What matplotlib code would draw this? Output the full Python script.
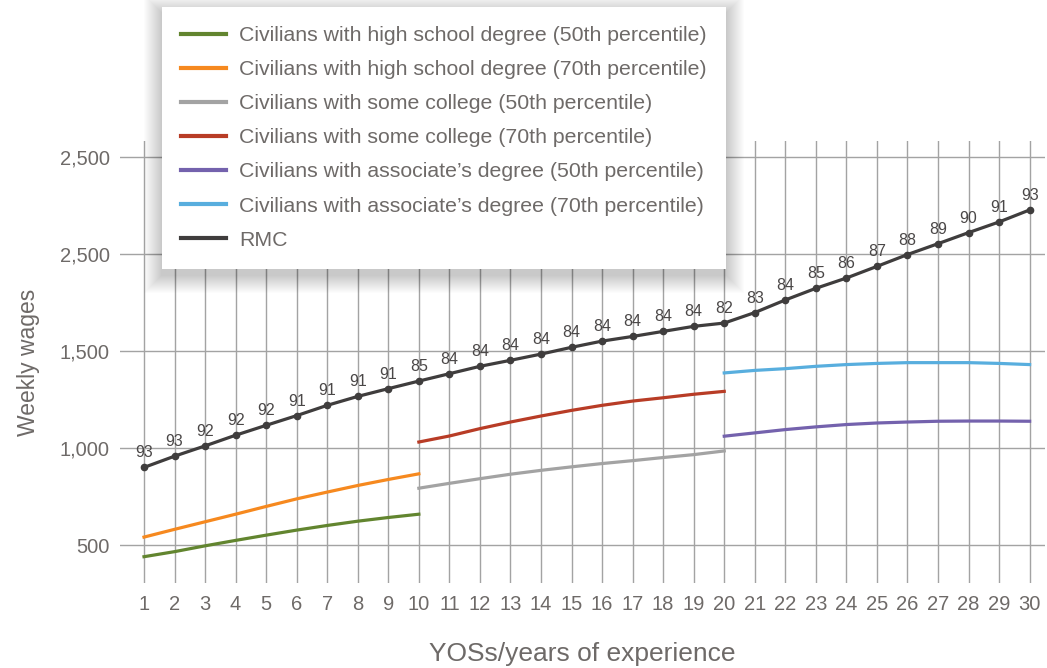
import matplotlib
matplotlib.use("Agg")
import matplotlib.pyplot as plt
from matplotlib.patches import Rectangle

plt.rcParams["font.family"] = ["Liberation Sans", "DejaVu Sans"]

years = list(range(1, 31))

# RMC weekly wages and the percentile label shown above each point
rmc = [900, 958, 1011, 1066, 1117, 1167, 1220, 1266, 1306, 1345,
       1383, 1421, 1452, 1484, 1519, 1551, 1575, 1601, 1627, 1644,
       1698, 1763, 1823, 1876, 1936, 1997, 2053, 2110, 2165, 2227]
rmc_pct = [93, 93, 92, 92, 92, 91, 91, 91, 91, 85,
           84, 84, 84, 84, 84, 84, 84, 84, 84, 82,
           83, 84, 85, 86, 87, 88, 89, 90, 91, 93]

# civilian comparison groups (each covers a span of years)
hs_years = list(range(1, 11))
hs_50 = [440, 466, 496, 524, 551, 577, 601, 623, 642, 659]
hs_70 = [541, 581, 620, 659, 699, 738, 773, 807, 838, 867]

sc_years = list(range(10, 21))
sc_50 = [793, 818, 842, 865, 885, 903, 920, 935, 951, 966, 985]
sc_70 = [1031, 1062, 1100, 1134, 1165, 1194, 1220, 1242, 1259, 1277, 1292]

ad_years = list(range(20, 31))
ad_50 = [1061, 1078, 1095, 1109, 1121, 1129, 1134, 1138, 1139, 1139, 1138]
ad_70 = [1387, 1400, 1409, 1421, 1430, 1436, 1440, 1440, 1440, 1436, 1430]

y_ticks = [500, 1000, 1500, 2000, 2500]
y_tick_labels = ["500", "1,000", "1,500", "2,500", "2,500"]

text_grey = "#6e6a68"
grid_grey = "#a3a3a3"

fig = plt.figure(figsize=(10.47, 6.68), dpi=100)
ax = fig.add_axes([0.1142, 0.1274, 0.8838, 0.6609])

lw = 2.3
ax.plot(hs_years, hs_50, color="#62852f", lw=lw,
        label="Civilians with high school degree (50th percentile)")
ax.plot(hs_years, hs_70, color="#f6891f", lw=lw,
        label="Civilians with high school degree (70th percentile)")
ax.plot(sc_years, sc_50, color="#a3a3a3", lw=lw,
        label="Civilians with some college (50th percentile)")
ax.plot(sc_years, sc_70, color="#b83c26", lw=lw,
        label="Civilians with some college (70th percentile)")
ax.plot(ad_years, ad_50, color="#7462ad", lw=lw,
        label="Civilians with associate\u2019s degree (50th percentile)")
ax.plot(ad_years, ad_70, color="#58aede", lw=lw,
        label="Civilians with associate\u2019s degree (70th percentile)")
ax.plot(years, rmc, color="#3f3d3d", lw=lw, marker="o", markersize=4.5,
        label="RMC")

for x, y, p in zip(years, rmc, rmc_pct):
    ax.annotate(str(p), (x, y), xytext=(0, 5), textcoords="offset points",
                ha="center", va="bottom", fontsize=11.5, color="#4a4747")

ax.set_xlim(0.2, 30.5)
ax.set_ylim(305, 2580)
ax.set_xticks(years)
ax.set_yticks(y_ticks)
ax.set_yticklabels(y_tick_labels)
ax.tick_params(axis="both", length=0, labelsize=14.5, colors=text_grey)
ax.tick_params(axis="x", pad=9)
ax.tick_params(axis="y", pad=7)

for y in y_ticks:
    ax.axhline(y, color=grid_grey, lw=1, zorder=0)
for x in years:
    ax.axvline(x, color=grid_grey, lw=1, zorder=0)
for s in ax.spines.values():
    s.set_visible(False)

ax.set_xlabel("YOSs/years of experience", fontsize=19, color=text_grey,
              labelpad=20)
ax.set_ylabel("Weekly wages", fontsize=16.5, color=text_grey, labelpad=14)

leg = fig.legend(loc="upper left", bbox_to_anchor=(162 / 1047, 1 - 7 / 668),
                 bbox_transform=fig.transFigure, borderaxespad=0,
                 frameon=True, fancybox=False, framealpha=1, fontsize=15.3,
                 labelspacing=0.71, handlelength=2.1, handletextpad=0.62,
                 borderpad=0.9)
leg.get_frame().set_edgecolor("none")
leg.get_frame().set_facecolor("white")
leg.set_zorder(10)
for t in leg.get_texts():
    t.set_color(text_grey)
for h in leg.get_lines():
    h.set_linewidth(3)
    h.set_marker("")

# soft drop shadow behind the legend box
fig.canvas.draw()
bb = leg.get_window_extent().transformed(fig.transFigure.inverted())
W, H = fig.get_size_inches() * fig.dpi
for i in range(18, 0, -1):
    dx, dy = i / W, i / H
    fig.add_artist(Rectangle((bb.x0 - dx, bb.y0 - dy - 6 / H),
                             bb.width + 2 * dx, bb.height + 2 * dy,
                             transform=fig.transFigure, facecolor="black",
                             edgecolor="none", alpha=0.01, zorder=9))

fig.savefig("out.png", dpi=100)
